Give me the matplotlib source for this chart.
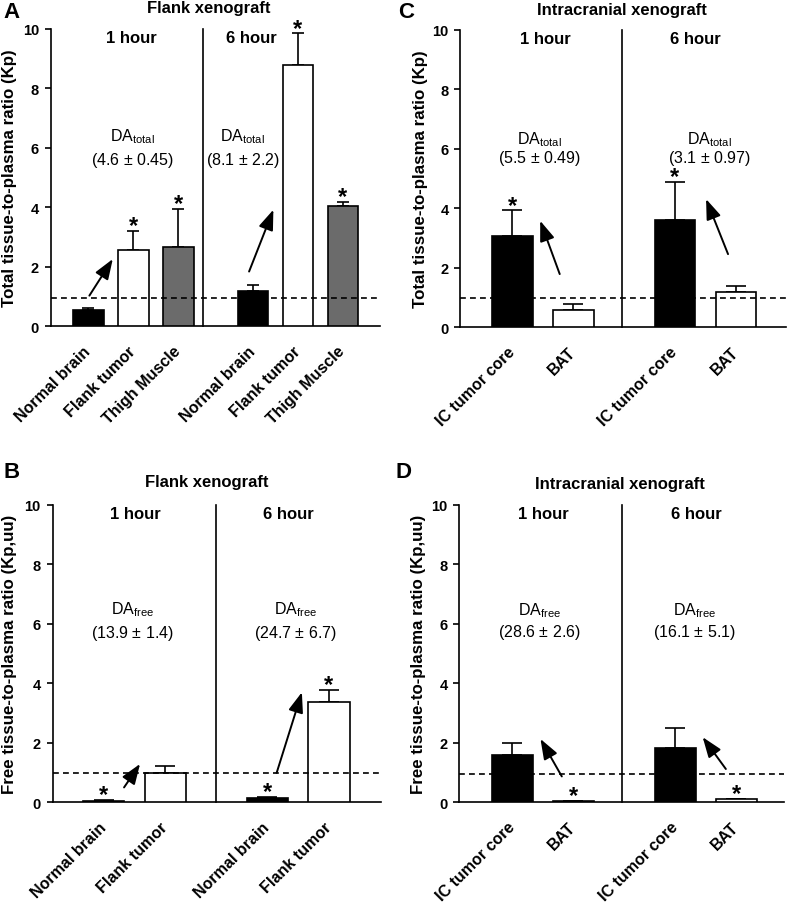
import matplotlib
matplotlib.use("Agg")
import matplotlib.pyplot as plt
import numpy as np

plt.rcParams['font.family'] = ['Liberation Sans', 'DejaVu Sans']
plt.rcParams['mathtext.default'] = 'regular'
plt.rcParams['axes.linewidth'] = 1.2

# ---------------- data ----------------
cats_A = ['Normal brain', 'Flank tumor', 'Thigh Muscle', 'Normal brain', 'Flank tumor', 'Thigh Muscle']
kp_A = [0.55, 2.58, 2.67, 1.18, 8.78, 4.03]
kp_A_err = [0.07, 0.64, 1.28, 0.22, 1.07, 0.15]
star_A = [False, True, True, False, True, True]
fill_A = ['black', 'white', '#6b6b6b', 'black', 'white', '#6b6b6b']

cats_C = ['IC tumor core', 'BAT', 'IC tumor core', 'BAT']
kp_C = [3.08, 0.57, 3.62, 1.18]
kp_C_err = [0.85, 0.20, 1.26, 0.20]
star_C = [True, False, True, False]

cats_B = ['Normal brain', 'Flank tumor', 'Normal brain', 'Flank tumor']
kpuu_B = [0.06, 1.00, 0.15, 3.36]
kpuu_B_err = [0.02, 0.23, 0.03, 0.41]
star_B = [True, False, True, True]

cats_D = ['IC tumor core', 'BAT', 'IC tumor core', 'BAT']
kpuu_D = [1.59, 0.05, 1.84, 0.10]
kpuu_D_err = [0.41, 0.01, 0.67, 0.02]
star_D = [False, True, False, True]

fill_2 = ['black', 'white', 'black', 'white']

da_total = 'DA$_{total}$'
da_free = 'DA$_{free}$'
da_A = ['(4.6 $\\pm$ 0.45)', '(8.1 $\\pm$ 2.2)']
da_C = ['(5.5 $\\pm$ 0.49)', '(3.1 $\\pm$ 0.97)']
da_B = ['(13.9 $\\pm$ 1.4)', '(24.7 $\\pm$ 6.7)']
da_D = ['(28.6 $\\pm$ 2.6)', '(16.1 $\\pm$ 5.1)']

ylab_total = 'Total tissue-to-plasma ratio (Kp)'
ylab_free = 'Free tissue-to-plasma ratio (Kp,uu)'

fig = plt.figure(figsize=(7.92, 9.04), dpi=100)


def panel(rect, cats, vals, errs, stars, fills, pos, xlim, sep,
          hour_x, da_x, da_head, da_txt, da_y, arrows, ylabel, capsize, dash_y, label_x):
    ax = fig.add_axes(rect)
    ax.bar(pos, vals, width=0.67, color=fills, edgecolor='black', linewidth=1.2, zorder=3)
    ax.errorbar(pos, vals, yerr=[np.zeros(len(vals)), errs], fmt='none', ecolor='black',
                elinewidth=1.2, capsize=capsize, capthick=1.2, zorder=2)
    for p, v, e, s in zip(pos, vals, errs, stars):
        if s:
            ax.text(p, v + e - 0.04, '*', ha='center', va='baseline', fontsize=17,
                    fontweight='bold', zorder=5)
    ax.axhline(dash_y, color='black', lw=1.2, ls=(0, (3.5, 2.5)), zorder=4)
    ax.plot([sep, sep], [0, 10], color='black', lw=1.2, zorder=4, clip_on=False)
    ax.set_xlim(*xlim)
    ax.set_ylim(0, 10)
    ax.set_yticks([0, 2, 4, 6, 8, 10])
    ax.tick_params(axis='y', length=4, width=1.2, pad=4.5, labelsize=10.5)
    for t in ax.get_yticklabels():
        t.set_fontweight('bold')
    ax.set_xticks(pos)
    ax.set_xticklabels(cats, rotation=45, ha='right', va='center', rotation_mode='anchor',
                       fontsize=11.5, fontweight='bold')
    ax.tick_params(axis='x', length=0, pad=16)
    ax.spines['top'].set_visible(False)
    ax.spines['right'].set_visible(False)
    ax.set_ylabel(ylabel, fontsize=12.2, fontweight='bold')
    ax.yaxis.set_label_coords(label_x, 0.5)
    ax.text(hour_x[0], 9.72, '1 hour', ha='center', va='center', fontsize=12, fontweight='bold')
    ax.text(hour_x[1], 9.72, '6 hour', ha='center', va='center', fontsize=12, fontweight='bold')
    for x, t in zip(da_x, da_txt):
        ax.text(x, da_y[0], da_head, ha='center', va='center', fontsize=11.5)
        ax.text(x, da_y[1], t, ha='center', va='center', fontsize=11.5)
    for (tx, ty, hx, hy) in arrows:
        ax.annotate('', xy=(hx, hy), xytext=(tx, ty),
                    arrowprops=dict(arrowstyle='-|>,head_length=0.95,head_width=0.35',
                                    lw=1.4, color='black', mutation_scale=13,
                                    shrinkA=0, shrinkB=0), zorder=6)
    return ax


axA = panel([0.064, 0.638, 0.4158, 0.3289], cats_A, kp_A, kp_A_err,
            star_A, fill_A, [0, 1, 2, 3.65, 4.65, 5.65], (-0.84, 6.48), 2.54,
            [0.96, 3.63], [0.98, 3.43], da_total, da_A, (6.42, 5.62),
            [(0.02, 1.03, 0.54, 2.26), (3.57, 1.84, 4.11, 3.92)],
            ylab_total, 4.3, 0.95, -0.103)
axC = panel([0.5812, 0.6368, 0.4112, 0.3292], cats_C, kp_C, kp_C_err,
            star_C, fill_2, [0, 1, 2.67, 3.67], (-0.85, 4.49), 1.8,
            [0.55, 3.01], [0.45, 3.23], da_total, da_C, (6.34, 5.70),
            [(0.78, 1.79, 0.46, 3.58), (3.54, 2.46, 3.18, 4.31)],
            ylab_total, 7.5, 1.0, -0.100)
axB = panel([0.0665, 0.1114, 0.4141, 0.3289], cats_B, kpuu_B, kpuu_B_err,
            star_B, fill_2, [0, 1, 2.66, 3.66], (-0.83, 4.5), 1.82,
            [0.51, 3.0], [0.47, 3.11], da_free, da_B, (6.52, 5.72),
            [(0.33, 0.5, 0.59, 1.29), (2.81, 0.99, 3.22, 3.7)],
            ylab_free, 7.5, 1.0, -0.11)
axD = panel([0.58, 0.1114, 0.4104, 0.3289], cats_D, kpuu_D, kpuu_D_err,
            star_D, fill_2, [0, 1, 2.67, 3.67], (-0.87, 4.46), 1.8,
            [0.5, 3.01], [0.44, 2.99], da_free, da_D, (6.48, 5.74),
            [(0.81, 0.87, 0.46, 2.13), (3.5, 1.12, 3.12, 2.19)],
            ylab_free, 7.5, 0.95, -0.102)

# titles and panel letters (figure coords in pixels)
W, H = 792, 904
fig.text(209 / W, 1 - 9 / H, 'Flank xenograft', ha='center', va='center', fontsize=12, fontweight='bold')
fig.text(622 / W, 1 - 10 / H, 'Intracranial xenograft', ha='center', va='center', fontsize=12, fontweight='bold')
fig.text(207 / W, 1 - 483 / H, 'Flank xenograft', ha='center', va='center', fontsize=12, fontweight='bold')
fig.text(620 / W, 1 - 484 / H, 'Intracranial xenograft', ha='center', va='center', fontsize=12, fontweight='bold')
fig.text(12 / W, 1 - 12 / H, 'A', ha='center', va='center', fontsize=16, fontweight='bold')
fig.text(406 / W, 1 - 12 / H, 'C', ha='center', va='center', fontsize=16, fontweight='bold')
fig.text(12 / W, 1 - 472 / H, 'B', ha='center', va='center', fontsize=16, fontweight='bold')
fig.text(404 / W, 1 - 472 / H, 'D', ha='center', va='center', fontsize=16, fontweight='bold')

fig.savefig('out.png', dpi=100)
